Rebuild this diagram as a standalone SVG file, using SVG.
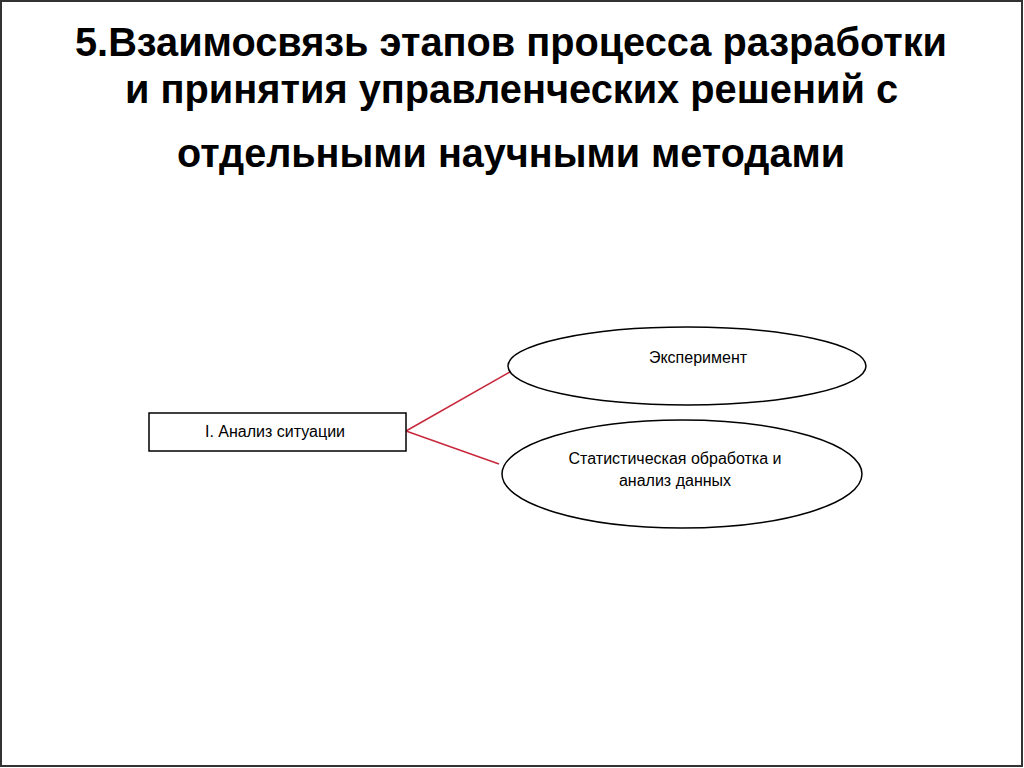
<svg xmlns="http://www.w3.org/2000/svg" width="1024" height="768" viewBox="0 0 1024 768">
  <style>
    .title { font-family: "Liberation Sans", Arial, sans-serif; font-weight: bold; font-size: 40px; fill: #000; }
    .lbl { font-family: "Liberation Sans", Arial, sans-serif; font-size: 16px; fill: #000; text-anchor: middle; }
    .node { fill: #fff; stroke: #000; stroke-width: 1.5; }
    .conn { stroke: #c8283c; stroke-width: 1.5; fill: none; }
  </style>
  <rect x="0" y="0" width="1024" height="768" fill="#fff"/>
  <rect x="1" y="1" width="1021" height="765" fill="none" stroke="#333" stroke-width="2"/>
  <g id="title">
    <text class="title" x="75" y="56" textLength="872" lengthAdjust="spacingAndGlyphs">5.Взаимосвязь этапов процесса разработки</text>
    <text class="title" x="125" y="103" textLength="773" lengthAdjust="spacingAndGlyphs">и принятия управленческих решений с</text>
    <text class="title" x="177" y="167" textLength="668" lengthAdjust="spacingAndGlyphs">отдельными научными методами</text>
  </g>
  <g id="connectors">
    <line class="conn" x1="406" y1="431" x2="510" y2="372"/>
    <line class="conn" x1="406" y1="431" x2="499" y2="464"/>
  </g>
  <g id="node-analysis">
    <rect class="node" x="149" y="413" width="257" height="38" stroke="#333"/>
    <text class="lbl" x="275" y="437">I. Анализ ситуации</text>
  </g>
  <g id="node-experiment">
    <ellipse class="node" cx="687" cy="366" rx="179" ry="39"/>
    <text class="lbl" x="698" y="363">Эксперимент</text>
  </g>
  <g id="node-statistics">
    <ellipse class="node" cx="682" cy="474" rx="180" ry="54"/>
    <text class="lbl" x="675" y="464">Статистическая обработка и</text>
    <text class="lbl" x="675" y="486">анализ данных</text>
  </g>
</svg>
